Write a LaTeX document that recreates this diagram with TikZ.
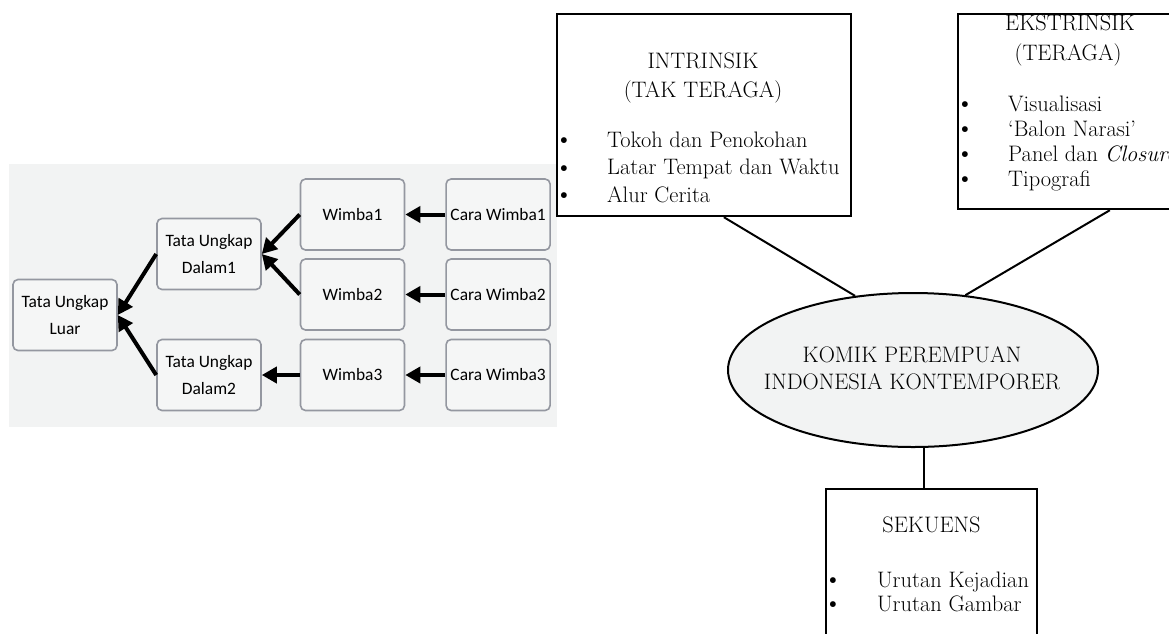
\documentclass[tikz,border=0pt]{standalone}
\usepackage{fontspec}
\newfontfamily\carlito{Carlito}
\usetikzlibrary{positioning,shapes.geometric,arrows.meta}

\definecolor{panelgray}{HTML}{F2F3F3}
\definecolor{boxgray}{HTML}{9497A0}
\definecolor{boxfill}{HTML}{F5F6F6}
\definecolor{ellfill}{HTML}{F2F3F3}

\tikzset{
  wbox/.style={draw=boxgray, line width=1.6pt, rounded corners=5pt, fill=boxfill,
               minimum width=104pt, minimum height=71pt, inner sep=0pt, align=center,
               font=\carlito\fontsize{17.4}{27}\selectfont},
  bigarrow/.style={line width=4pt, -{Triangle[length=15pt,width=16pt]}},
  frame/.style={draw, line width=2.4pt, inner sep=0pt},
  link/.style={line width=2pt},
  serif/.style={font=\fontsize{22.4}{27.5}\selectfont, inner sep=0pt,
                text height=15pt, text depth=4.5pt},
  dot/.style={inner sep=0pt, font=\fontsize{26}{26}\selectfont,
              text height=9pt, text depth=0pt, yshift=-1pt},
  item/.style={serif, anchor=west},
}

\begin{document}
\begin{tikzpicture}[x=1pt,y=-1pt]
      \clip (0,0) rectangle (1169,633);
      \fill[white] (0,0) rectangle (1169,633);
      \fill[panelgray] (9,164) rectangle (557,427);

      % left: tata ungkap tree
      \node[wbox]                      (luar)   at (65,315)      {Tata Ungkap\\Luar};
      \node[wbox]                      (dalam1) at (209,254)     {Tata Ungkap\\Dalam1};
      \node[wbox]                      (dalam2) at (209,375)     {Tata Ungkap\\Dalam2};
      \node[wbox]                      (wimba1) at (352.5,214.5) {Wimba1};
      \node[wbox]                      (wimba2) at (352.5,294.5) {Wimba2};
      \node[wbox]                      (wimba3) at (352.5,375)   {Wimba3};
      \node[wbox, right=40pt of wimba1] (cara1)                  {Cara Wimba1};
      \node[wbox, right=40pt of wimba2] (cara2)                  {Cara Wimba2};
      \node[wbox, right=40pt of wimba3] (cara3)                  {Cara Wimba3};

      \draw[bigarrow] (cara1.west)  -- (wimba1.east);
      \draw[bigarrow] (cara2.west)  -- (wimba2.east);
      \draw[bigarrow] (cara3.west)  -- (wimba3.east);
      \draw[bigarrow] (wimba1.west) -- (dalam1.east);
      \draw[bigarrow] (wimba2.west) -- (dalam1.east);
      \draw[bigarrow] (wimba3.west) -- (dalam2.east);
      \draw[bigarrow] (dalam1.west) -- (luar.east);
      \draw[bigarrow] (dalam2.west) -- (luar.east);

      % right: komik perempuan
      \node[frame, minimum width=294pt, minimum height=202pt] (intr) at (704,115) {};
      \node[serif] (intr-t1) at (703,63) {INTRINSIK};
      \node[serif] (intr-t2) at (703,92) {(TAK TERAGA)};
      \foreach \txt [count=\i] in {Tokoh dan Penokohan, Latar Tempat dan Waktu, Alur Cerita} {
        \node[dot]  (intr-b\i) at (564,114.5+27.5*\i) {\textbullet};
        \node[item] (intr-i\i) at (607,114.5+27.5*\i) {\txt};
      }

      \node[frame, minimum width=224pt, minimum height=195pt] (ekst) at (1070,111.5) {};
      \node[serif] (ekst-t1) at (1070,25) {EKSTRINSIK};
      \node[serif] (ekst-t2) at (1068,55) {(TERAGA)};
      \foreach \txt [count=\i] in {Visualisasi, {‘Balon Narasi’}, {Panel dan \textit{Closure}}, Tipografi} {
        \node[dot]  (ekst-b\i) at (965,81+25*\i) {\textbullet};
        \node[item] (ekst-i\i) at (1008,81+25*\i) {\txt};
      }

      \node[ellipse, draw, line width=2pt, fill=ellfill, minimum width=370pt,
            minimum height=154pt, inner sep=0pt] (komik) at (913,370) {};
      \node[serif, align=center, text height=, text depth=] (komik-t) at (912,368.5)
            {KOMIK PEREMPUAN\\INDONESIA KONTEMPORER};

      \node[frame, minimum width=211pt, minimum height=250pt] (seq) at (931.5,614) {};
      \node[serif] (seq-t) at (931.5,527) {SEKUENS};
      \foreach \txt [count=\i] in {Urutan Kejadian, Urutan Gambar} {
        \node[dot]  (seq-b\i) at (833,558+24*\i) {\textbullet};
        \node[item] (seq-i\i) at (877,558+24*\i) {\txt};
      }

      \draw[link] (intr.-79)    -- (komik.128);
      \draw[link] (ekst.-68)    -- (komik.55);
      \draw[link] (komik.-82.6) -- (komik.-82.6 |- seq.north);
\end{tikzpicture}
\end{document}
